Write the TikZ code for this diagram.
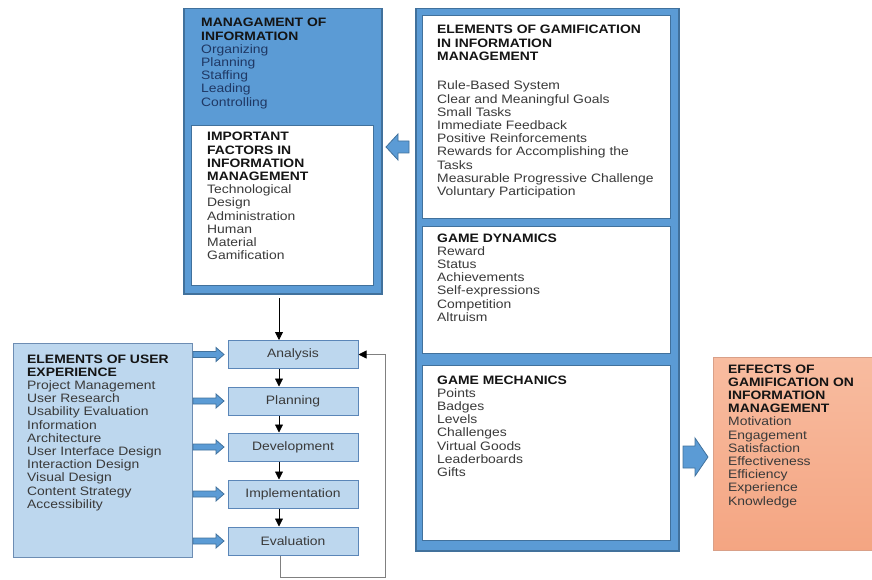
\documentclass[tikz,border=0pt]{standalone}
\usepackage{fontspec}
\setmainfont{Liberation Sans}[FakeStretch=1.14]
\usetikzlibrary{arrows.meta}
\definecolor{midblue}{HTML}{5B9BD5}
\definecolor{darkblue}{HTML}{41719C}
\definecolor{lightblue}{HTML}{BDD7EE}
\definecolor{uxborder}{HTML}{6D8DB3}
\definecolor{procborder}{HTML}{5B86B8}
\definecolor{navytext}{HTML}{1F3864}
\definecolor{bodygray}{HTML}{3A3A3A}
\definecolor{headblack}{HTML}{141414}
\definecolor{peachtop}{HTML}{F8BCA0}
\definecolor{peachbot}{HTML}{F4A582}
\definecolor{peachborder}{HTML}{D9A088}
\definecolor{loopgray}{HTML}{808080}
\newcommand\lns[1]{\begin{tabular}[t]{@{}l@{}}#1\end{tabular}}
\newcommand\hd[1]{\textcolor{headblack}{\textbf{#1}}}
\begin{document}
\begin{tikzpicture}[x=1pt,y=-1pt,
  font=\fontsize{12.2}{13.2}\selectfont,
  bigbox/.style={draw=darkblue, fill=midblue, line width=1.5pt, anchor=north west, inner sep=0},
  whitebox/.style={draw=darkblue, fill=white, line width=0.8pt, anchor=north west, inner sep=0},
  uxbox/.style={draw=uxborder, fill=lightblue, line width=1pt, anchor=north west, inner sep=0},
  effbox/.style={draw=peachborder, top color=peachtop, bottom color=peachbot, line width=0.6pt, anchor=north west, inner sep=0},
  txt/.style={anchor=base west, inner sep=0, text=bodygray},
  stepbox/.style={draw=procborder, fill=lightblue, line width=1pt, minimum width=130pt, minimum height=28pt, inner sep=0, text=bodygray},
  arr/.style={-{Triangle[length=8pt,width=8pt]}, black, line width=0.8pt},
  looparr/.style={-{Triangle[length=8pt,width=8pt,color=black]}, loopgray, line width=0.8pt},
  blockarrow/.style={draw=darkblue, fill=midblue, line width=0.8pt, line join=miter}
]
\useasboundingbox (0,0) rectangle (872,580);

% containers
\node[bigbox, minimum width=198pt, minimum height=285pt] (mgmt) at (183,8) {};
\node[whitebox, minimum width=182pt, minimum height=160pt] (factors) at (191,125) {};
\node[bigbox, minimum width=263pt, minimum height=542pt] (gam) at (415,8) {};
\node[whitebox, minimum width=248pt, minimum height=203pt] (elem) at (422,15) {};
\node[whitebox, minimum width=248pt, minimum height=127pt] (dyn) at (422,226) {};
\node[whitebox, minimum width=248pt, minimum height=175pt] (mech) at (422,365) {};
\node[uxbox, minimum width=179pt, minimum height=214pt] (ux) at (13,343) {};
\node[effbox, minimum width=170pt, minimum height=193pt] (eff) at (713,357) {};

% texts
\node[txt, text=navytext] (mgmtT) at (201,27) {\lns{\hd{MANAGAMENT OF}\\ \hd{INFORMATION}\\ Organizing\\ Planning\\ Staffing\\ Leading\\ Controlling}};
\node[txt] (factorsT) at (207,141) {\lns{\hd{IMPORTANT}\\ \hd{FACTORS IN}\\ \hd{INFORMATION}\\ \hd{MANAGEMENT}\\ Technological\\ Design\\ Administration\\ Human\\ Material\\ Gamification}};
\node[txt] (elemH) at (437,34) {\lns{\hd{ELEMENTS OF GAMIFICATION}\\ \hd{IN INFORMATION}\\ \hd{MANAGEMENT}}};
\node[txt] (elemT) at (437,90) {\lns{Rule-Based System\\ Clear and Meaningful Goals\\ Small Tasks\\ Immediate Feedback\\ Positive Reinforcements\\ Rewards for Accomplishing the\\ Tasks\\ Measurable Progressive Challenge\\ Voluntary Participation}};
\node[txt] (dynT) at (437,242) {\lns{\hd{GAME DYNAMICS}\\ Reward\\ Status\\ Achievements\\ Self-expressions\\ Competition\\ Altruism}};
\node[txt] (mechT) at (437,384) {\lns{\hd{GAME MECHANICS}\\ Points\\ Badges\\ Levels\\ Challenges\\ Virtual Goods\\ Leaderboards\\ Gifts}};
\node[txt] (uxT) at (27,363) {\lns{\hd{ELEMENTS OF USER}\\ \hd{EXPERIENCE}\\ Project Management\\ User Research\\ Usability Evaluation\\ Information\\ Architecture\\ User Interface Design\\ Interaction Design\\ Visual Design\\ Content Strategy\\ Accessibility}};
\node[txt] (effT) at (728,373) {\lns{\hd{EFFECTS OF}\\ \hd{GAMIFICATION ON}\\ \hd{INFORMATION}\\ \hd{MANAGEMENT}\\ Motivation\\ Engagement\\ Satisfaction\\ Effectiveness\\ Efficiency\\ Experience\\ Knowledge}};

% process steps
\node[stepbox] (an) at (293,354.5) {Analysis};
\node[stepbox] (pl) at (293,401) {Planning};
\node[stepbox] (de) at (293,447) {Development};
\node[stepbox] (im) at (293,494) {Implementation};
\node[stepbox] (ev) at (293,541) {Evaluation};

% connectors
\coordinate (topstart) at (279,298);
\draw[arr] (topstart) -- (topstart |- an.north);
\draw[arr] ([xshift=-14pt]an.south) -- ([xshift=-14pt]pl.north);
\draw[arr] ([xshift=-14pt]pl.south) -- ([xshift=-14pt]de.north);
\draw[arr] ([xshift=-14pt]de.south) -- ([xshift=-14pt]im.north);
\draw[arr] ([xshift=-14pt]im.south) -- ([xshift=-14pt]ev.north);
\coordinate (lp) at (385,577);
\draw[looparr] ([xshift=-13pt]ev.south) |- (lp) |- (an.east);

% block arrows
\draw[blockarrow] (386,147) -- (398,134) -- (398,141) -- (409,141) -- (409,153) -- (398,153) -- (398,160) -- cycle;
\draw[blockarrow] (683,446) -- (695,446) -- (695,438) -- (708,457) -- (695,476) -- (695,468) -- (683,468) -- cycle;
\foreach \c in {354.5,401,447,494,541}{
  \draw[blockarrow] (193,\c-3) -- (216,\c-3) -- (216,\c-7) -- (224,\c) -- (216,\c+7) -- (216,\c+3) -- (193,\c+3) -- cycle;
}
\end{tikzpicture}
\end{document}
